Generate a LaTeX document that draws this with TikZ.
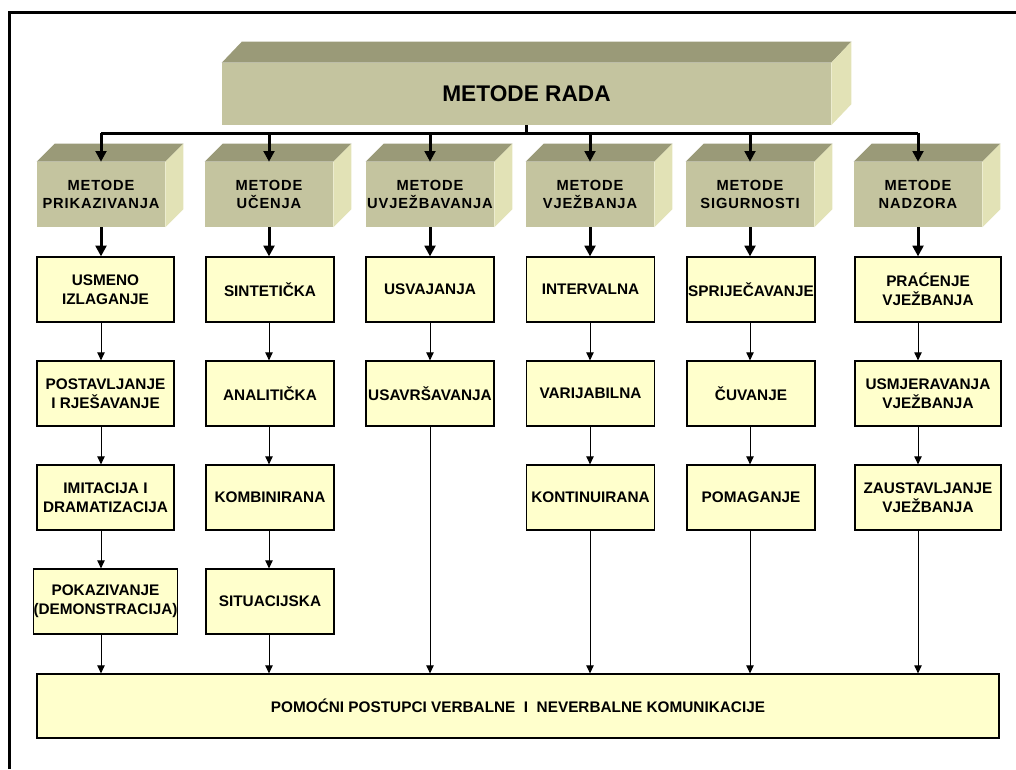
\documentclass[tikz,border=0pt]{standalone}
\usepackage{fontspec}
\setmainfont{Liberation Sans}
\usetikzlibrary{arrows.meta}
\definecolor{topc}{HTML}{9A9A78}
\definecolor{frontc}{HTML}{C4C49F}
\definecolor{sidec}{HTML}{E2E2B6}
\definecolor{childc}{HTML}{FFFFCC}
\begin{document}
\begin{tikzpicture}[x=0.75pt,y=-0.75pt,
  catbox/.style={fill=frontc, minimum width=96pt, minimum height=48.75pt, inner sep=0pt, align=center,
    font={\fontsize{11}{13}\selectfont\bfseries\addfontfeatures{LetterSpace=6}}},
  childbox/.style={draw=black, line width=0.9pt, fill=childc, minimum width=96pt, minimum height=48.75pt,
    inner sep=0pt, align=center, font={\fontsize{11.5}{14.25}\selectfont\bfseries}},
  bigarrow/.style={line width=2.25pt, -{Triangle[length=8pt,width=8pt]}},
  smallarrow/.style={line width=0.75pt, -{Triangle[length=6pt,width=5.5pt]}},
  busline/.style={line width=2.25pt},
  topface/.style={fill=topc},
  sideface/.style={fill=sidec}
]
\useasboundingbox (0,0) rectangle (1016,769);
% frame
\draw[line width=2.25pt] (9,769) -- (9,12) -- (1016,12);

% top box
\node[fill=frontc, minimum width=456.75pt, minimum height=46.5pt, inner sep=0pt,
  font={\fontsize{17}{20}\selectfont\bfseries}] (top) at (526.5,94) {METODE RADA};
\fill[topface] (top.north west) -- ++(20,-21) -- ([shift={(20,-21)}]top.north east) -- (top.north east) -- cycle;
\fill[sideface] (top.north east) -- ++(20,-21) -- ([shift={(20,-21)}]top.south east) -- (top.south east) -- cycle;

% column axes
\coordinate (a1) at (101,133);
\coordinate (a2) at (269,133);
\coordinate (a3) at (430,133);
\coordinate (a4) at (590,133);
\coordinate (a5) at (750,133);
\coordinate (a6) at (918,133);

% category boxes
\foreach \i/\t in {1/{METODE\\PRIKAZIVANJA},2/{METODE\\UČENJA},3/{METODE\\UVJEŽBAVANJA},4/{METODE\\VJEŽBANJA},5/{METODE\\SIGURNOSTI},6/{METODE\\NADZORA}}{
  \node[catbox] (k\i) at (a\i |- 0,194.5) {\t};
  \fill[topface] (k\i.north west) -- ++(18,-18) -- ([shift={(18,-18)}]k\i.north east) -- (k\i.north east) -- cycle;
  \fill[sideface] (k\i.north east) -- ++(18,-18) -- ([shift={(18,-18)}]k\i.south east) -- (k\i.south east) -- cycle;
}

% bus
\draw[busline] (top.south) -- (top.south |- a1);
\draw[busline] (a1) -- (a6);
\foreach \i in {1,...,6}{
  \draw[bigarrow] (a\i) -- (k\i.north);
}

% child boxes
\node[childbox, minimum width=102.75pt] (c11) at (105.5,289.5) {USMENO\\IZLAGANJE};
\node[childbox, minimum width=102.75pt] (c12) at (105.5,393.5) {POSTAVLJANJE\\I RJEŠAVANJE};
\node[childbox, minimum width=102.75pt] (c13) at (105.5,497.5) {IMITACIJA I\\DRAMATIZACIJA};
\node[childbox, minimum width=102.75pt] (c14) at (105.5,601.5) {POKAZIVANJE\\(DEMONSTRACIJA)};

\node[childbox] (c21) at (270,289.5) {SINTETIČKA};
\node[childbox] (c22) at (270,393.5) {ANALITIČKA};
\node[childbox] (c23) at (270,497.5) {KOMBINIRANA};
\node[childbox] (c24) at (270,601.5) {SITUACIJSKA};

\node[childbox] (c31) at (430,289.5) {USVAJANJA};
\node[childbox] (c32) at (430,393.5) {USAVRŠAVANJA};

\node[childbox] (c41) at (590.5,289.5) {INTERVALNA};
\node[childbox] (c42) at (590.5,393.5) {VARIJABILNA};
\node[childbox] (c43) at (590.5,497.5) {KONTINUIRANA};

\node[childbox] (c51) at (751,289.5) {SPRIJEČAVANJE};
\node[childbox] (c52) at (751,393.5) {ČUVANJE};
\node[childbox] (c53) at (751,497.5) {POMAGANJE};

\node[childbox, minimum width=109.5pt] (c61) at (928,289.5) {PRAĆENJE\\VJEŽBANJA};
\node[childbox, minimum width=109.5pt] (c62) at (928,393.5) {USMJERAVANJA\\VJEŽBANJA};
\node[childbox, minimum width=109.5pt] (c63) at (928,497.5) {ZAUSTAVLJANJE\\VJEŽBANJA};

% bottom box
\node[childbox, minimum width=721.5pt, minimum height=48pt] (bot) at (518,706)
  {POMOĆNI POSTUPCI VERBALNE\ \ I\ \ NEVERBALNE KOMUNIKACIJE};

% category -> first child
\foreach \i in {1,...,6}{
  \draw[bigarrow] (k\i.south -| a\i) -- (c\i1.north -| a\i);
}

% child -> child
\draw[smallarrow] (c11.south -| a1) -- (c12.north -| a1);
\draw[smallarrow] (c12.south -| a1) -- (c13.north -| a1);
\draw[smallarrow] (c13.south -| a1) -- (c14.north -| a1);
\draw[smallarrow] (c21.south -| a2) -- (c22.north -| a2);
\draw[smallarrow] (c22.south -| a2) -- (c23.north -| a2);
\draw[smallarrow] (c23.south -| a2) -- (c24.north -| a2);
\draw[smallarrow] (c31.south -| a3) -- (c32.north -| a3);
\draw[smallarrow] (c41.south -| a4) -- (c42.north -| a4);
\draw[smallarrow] (c42.south -| a4) -- (c43.north -| a4);
\draw[smallarrow] (c51.south -| a5) -- (c52.north -| a5);
\draw[smallarrow] (c52.south -| a5) -- (c53.north -| a5);
\draw[smallarrow] (c61.south -| a6) -- (c62.north -| a6);
\draw[smallarrow] (c62.south -| a6) -- (c63.north -| a6);

% last child -> bottom
\draw[smallarrow] (c14.south -| a1) -- (bot.north -| a1);
\draw[smallarrow] (c24.south -| a2) -- (bot.north -| a2);
\draw[smallarrow] (c32.south -| a3) -- (bot.north -| a3);
\draw[smallarrow] (c43.south -| a4) -- (bot.north -| a4);
\draw[smallarrow] (c53.south -| a5) -- (bot.north -| a5);
\draw[smallarrow] (c63.south -| a6) -- (bot.north -| a6);
\end{tikzpicture}
\end{document}
